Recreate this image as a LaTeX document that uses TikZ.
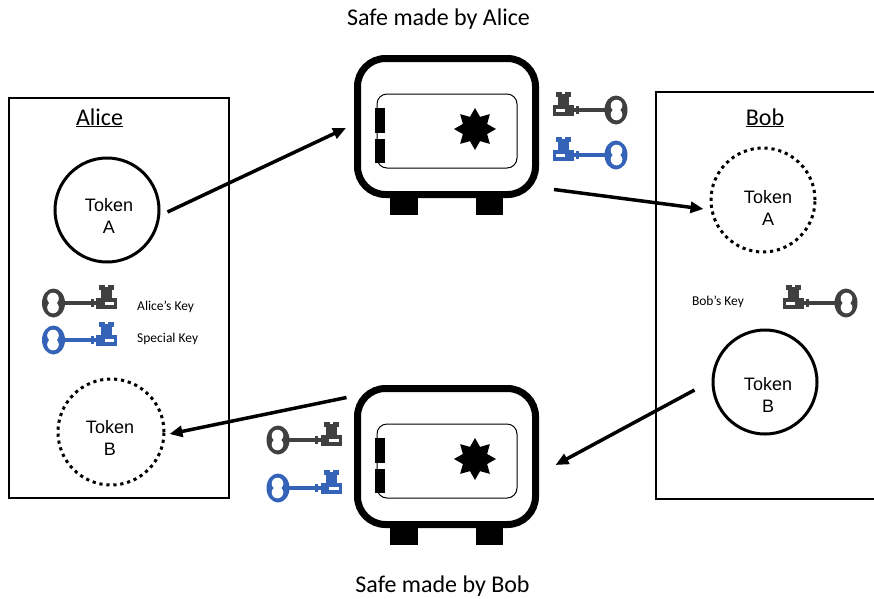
\documentclass[tikz,border=0pt]{standalone}
\usepackage{fontspec}
\setmainfont{Carlito}
\newfontfamily\tokenfont{Liberation Sans}
\usepackage{xcolor}
\usetikzlibrary{calc,arrows.meta,shapes.geometric}
\definecolor{ink}{HTML}{000000}
\definecolor{keygray}{HTML}{404040}
\definecolor{keyblue}{HTML}{3463B8}
\tikzset{
  partybox/.style={draw=ink, line width=2pt, minimum width=220pt, minimum height=400pt, inner sep=0pt},
  token/.style={circle, draw=ink, line width=3pt, minimum size=104pt, inner sep=0pt},
  dtoken/.style={token, dash pattern=on 3.2pt off 3.8pt},
  ttext/.style={font=\tokenfont\fontsize{18}{22}\selectfont, align=center, inner sep=0pt},
  heading/.style={font=\fontsize{24}{28}\selectfont, anchor=base, inner sep=0pt},
  klabel/.style={font=\fontsize{13.5}{16}\selectfont, inner sep=0pt},
  safebody/.style={draw=ink, line width=7pt, rounded corners=28pt, minimum width=178pt, minimum height=136pt, inner sep=0pt},
  door/.style={draw=ink, line width=1pt, rounded corners=10pt},
  dial/.style={star, star points=8, star point ratio=1.6, fill=ink, minimum size=42pt, inner sep=0pt},
  flow/.style={draw=ink, line width=3.5pt, -{Triangle[length=13pt,width=11pt]}}
}
% safe: name, centre
\newcommand{\safeicon}[2]{%
  \node[safebody] (#1) at (#2) {};
  \begin{scope}[shift={(#2)}]
    \fill[ink] (-56.5,68) rectangle (-28.5,88.5);
    \fill[ink] (29.5,68) rectangle (56.5,88.5);
    \draw[door] (-69.5,-32.5) rectangle (70.5,41.5);
    \fill[ink] (-71.5,-18.5) rectangle (-61.5,6.5);
    \fill[ink] (-71.5,12.5) rectangle (-61.5,36.5);
    \node[dial] (#1-dial) at (28.5,2.5) {};
  \end{scope}}
% key: colour, centre, direction (1 = bow right)
\newcommand{\keyicon}[3]{%
  \begin{scope}[shift={(#2)}, xscale=#3]
    \fill[#1] (-37.5,-5) rectangle (-16.5,5.5);
    \fill[#1] (-32.5,-14) rectangle (-21.5,-5);
    \fill[#1] (-34.5,-18.5) rectangle (-19.5,-13.5);
    \fill[white] (-28.5,-18.5) rectangle (-25.5,-16);
    \fill[white] (-34.5,-1.5) rectangle (-25,1.5);
    \fill[#1] (-17,-2.2) rectangle (17,2.2);
    \fill[#1] (-14,-4) rectangle (-11,4);
    \fill[#1] (26,0) ellipse [x radius=11.5, y radius=14.5];
    \fill[white] (26.5,-4.5) circle [radius=5.8] (26.5,4.5) circle [radius=5.8];
  \end{scope}}

\begin{document}
\begin{tikzpicture}[x=1pt, y=-1pt]
  \useasboundingbox (0,0) rectangle (874,598);

  \node[partybox] (alice) at (119,298) {};
  \node[partybox, minimum width=244pt, minimum height=407pt] (bob) at (778,295.5) {};
  \node[heading] (aliceName) at (99.5,125) {\underline{Alice}};
  \node[heading] (bobName) at (765,125) {\underline{Bob}};

  \node[heading] (titleA) at (438.5,25) {Safe made by Alice};
  \node[heading] (titleB) at (442.5,592) {Safe made by Bob};

  \safeicon{safeA}{446.5,126.5}
  \safeicon{safeB}{446.5,456.5}

  \node[token] (aliceTokA) at (107,210) {};
  \node[ttext] (aliceTxtA) at (109,216) {Token\\A};
  \node[dtoken, minimum size=106pt] (aliceTokB) at (111,432) {};
  \node[ttext] (aliceTxtB) at (110,438) {Token\\B};
  \node[dtoken] (bobTokA) at (763,200) {};
  \node[ttext] (bobTxtA) at (768,208) {Token\\A};
  \node[token] (bobTokB) at (765,382) {};
  \node[ttext] (bobTxtB) at (768,395) {Token\\B};

  \keyicon{keygray}{590,110}{1}
  \keyicon{keyblue}{590,155}{1}
  \keyicon{keygray}{79.5,303}{-1}
  \keyicon{keyblue}{79.5,340}{-1}
  \keyicon{keygray}{820,303}{1}
  \keyicon{keygray}{304,440}{-1}
  \keyicon{keyblue}{304,488}{-1}

  \node[klabel, anchor=west] (aliceKey) at (137,307) {Alice’s Key};
  \node[klabel, anchor=west] (specialKey) at (137,339) {Special Key};
  \node[klabel] (bobKey) at (718,302) {Bob’s Key};

  \draw[flow] ($(aliceTokA.east)+(7,2)$) -- ($(safeA.west)+(-8,1.5)$);
  \draw[flow] ($(safeA.south east)+(15,-8.5)$) -- ($(bobTokA.west)+(-6,9)$);
  \draw[flow] ($(bobTokB.west)+(-17,8)$) -- ($(safeB.east)+(16.5,8.5)$);
  \draw[flow] ($(safeB.north west)+(-7.5,12.5)$) -- ($(aliceTokB.east)+(4,2)$);
\end{tikzpicture}
\end{document}
